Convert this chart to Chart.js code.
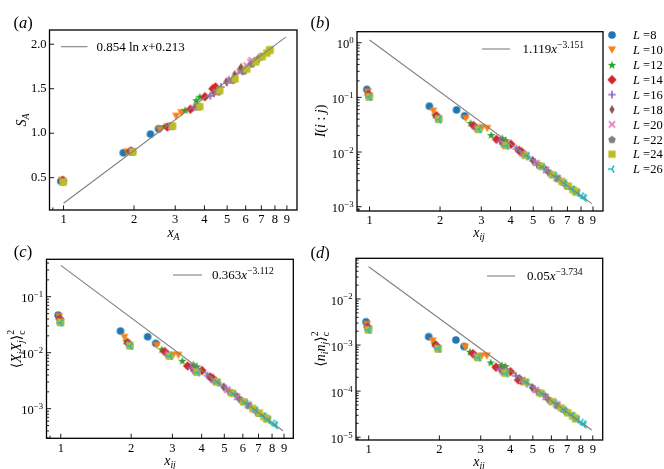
<!DOCTYPE html>
<html><head><meta charset="utf-8">
<script src="https://cdn.jsdelivr.net/npm/chart.js@4.4.1/dist/chart.umd.min.js"></script>
<style>
html,body{margin:0;padding:0;background:#fff;}
#wrap{position:relative;width:664px;height:469px;overflow:hidden;background:#fff;}
canvas{position:absolute;left:0;top:0;}
</style></head><body>
<div id="wrap">
<canvas id="ca" width="664" height="469"></canvas>
<canvas id="cb" width="664" height="469"></canvas>
<canvas id="cc" width="664" height="469"></canvas>
<canvas id="cd" width="664" height="469"></canvas>
</div>
<script>
// ---------------- DATA ----------------
const sizesL = [8, 10, 12, 14, 16, 18, 20, 22, 24, 26];
const legendLabels = ['8', '10', '12', '14', '16', '18', '20', '22', '24', '26'];

const x_L8  = [0.974, 1.800, 2.352, 2.546];
const x_L10 = [0.984, 1.871, 2.575, 3.027, 3.183];
const x_L12 = [0.989, 1.910, 2.701, 3.308, 3.690, 3.820];
const x_L14 = [0.991, 1.933, 2.778, 3.484, 4.015, 4.344, 4.456];
const x_L16 = [0.994, 1.949, 2.830, 3.601, 4.235, 4.705, 4.995, 5.093];
const x_L18 = [0.995, 1.960, 2.865, 3.683, 4.389, 4.962, 5.384, 5.643, 5.730];
const x_L20 = [0.996, 1.967, 2.890, 3.742, 4.502, 5.150, 5.672, 6.055, 6.288, 6.366];
const x_L22 = [0.997, 1.973, 2.909, 3.786, 4.586, 5.292, 5.892, 6.370, 6.719, 6.932, 7.003];
const x_L24 = [0.997, 1.977, 2.923, 3.820, 4.651, 5.402, 6.061, 6.616, 7.058, 7.379, 7.574, 7.639];
const x_L26 = [0.997, 1.980, 2.935, 3.846, 4.702, 5.488, 6.195, 6.811, 7.328, 7.738, 8.035, 8.216, 8.276];

// (a) S_A
const sA_L8  = [0.46, 0.78, 0.99, 1.05];
const sA_L10 = [0.47, 0.79, 1.04, 1.19, 1.23];
const sA_L12 = [0.47, 0.80, 1.08, 1.26, 1.37, 1.41];
const sA_L14 = [0.47, 0.80, 1.07, 1.27, 1.41, 1.50, 1.52];
const sA_L16 = [0.46, 0.80, 1.08, 1.29, 1.42, 1.52, 1.57, 1.60];
const sA_L18 = [0.46, 0.80, 1.08, 1.30, 1.45, 1.58, 1.66, 1.71, 1.74];
const sA_L20 = [0.46, 0.80, 1.08, 1.30, 1.46, 1.59, 1.69, 1.76, 1.80, 1.82];
const sA_L22 = [0.46, 0.79, 1.08, 1.30, 1.47, 1.60, 1.70, 1.78, 1.83, 1.86, 1.87];
const sA_L24 = [0.45, 0.79, 1.08, 1.30, 1.48, 1.61, 1.72, 1.80, 1.86, 1.90, 1.93, 1.94];

// (b) I(i:j)
const mi_L8  = [0.14, 0.069, 0.059, 0.046];
const mi_L10 = [0.125, 0.056, 0.041, 0.028, 0.027];
const mi_L12 = [0.118, 0.048, 0.034, 0.0205, 0.018, 0.0165];
const mi_L14 = [0.113, 0.046, 0.0305, 0.0171, 0.0139, 0.0107, 0.0101];
const mi_L16 = [0.108, 0.043, 0.028, 0.0158, 0.0115, 0.0083, 0.0069, 0.0066];
const mi_L18 = [0.106, 0.042, 0.0275, 0.0147, 0.0102, 0.0071, 0.0055, 0.0048, 0.0046];
const mi_L20 = [0.104, 0.041, 0.027, 0.014, 0.0094, 0.0063, 0.0047, 0.0038, 0.0034, 0.0033];
const mi_L22 = [0.103, 0.040, 0.0265, 0.0135, 0.0089, 0.0058, 0.0042, 0.0033, 0.0028, 0.0025, 0.0024];
const mi_L24 = [0.102, 0.040, 0.026, 0.0131, 0.0087, 0.0055, 0.0038, 0.0029, 0.0024, 0.00205, 0.0019, 0.00185];
const mi_L26 = [0.101, 0.039, 0.026, 0.0129, 0.0084, 0.0052, 0.0036, 0.0027, 0.0021, 0.00177, 0.00157, 0.00147, 0.00143];

// (c) <X_i X_j>_c^2
const xx_L8  = [0.047, 0.0244, 0.0193, 0.0147];
const xx_L10 = [0.044, 0.0188, 0.0135, 0.0091, 0.0090];
const xx_L12 = [0.041, 0.0163, 0.0115, 0.0072, 0.0062, 0.0057];
const xx_L14 = [0.040, 0.0151, 0.0105, 0.0058, 0.0048, 0.0037, 0.0035];
const xx_L16 = [0.038, 0.0145, 0.0095, 0.0054, 0.0039, 0.0029, 0.0024, 0.0023];
const xx_L18 = [0.037, 0.0141, 0.0093, 0.0050, 0.0035, 0.00246, 0.0019, 0.00167, 0.0016];
const xx_L20 = [0.036, 0.0138, 0.0091, 0.0048, 0.00324, 0.00218, 0.00163, 0.00132, 0.00119, 0.00115];
const xx_L22 = [0.035, 0.0135, 0.0089, 0.00462, 0.00307, 0.00201, 0.00146, 0.00115, 0.00098, 0.00088, 0.00084];
const xx_L24 = [0.035, 0.0133, 0.0087, 0.0045, 0.0030, 0.0019, 0.00132, 0.00101, 0.00084, 0.00072, 0.00067, 0.00065];
const xx_L26 = [0.034, 0.0131, 0.0087, 0.0044, 0.0029, 0.0018, 0.00125, 0.00094, 0.00074, 0.00062, 0.00055, 0.00052, 0.0005];

// (d) <n_i n_j>_c^2
const nn_L8  = [0.0032, 0.00152, 0.00129, 0.00093];
const nn_L10 = [0.0028, 0.00123, 0.00090, 0.00058, 0.00058];
const nn_L12 = [0.0026, 0.00108, 0.00072, 0.00042, 0.00037, 0.00035];
const nn_L14 = [0.00245, 0.0010, 0.00065, 0.00033, 0.000265, 0.000175, 0.00017];
const nn_L16 = [0.00235, 0.00093, 0.00060, 0.00030, 0.000215, 0.000145, 0.000118, 0.000112];
const nn_L18 = [0.00228, 0.00089, 0.00057, 0.00028, 0.000190, 0.000120, 0.000090, 0.000077, 0.000073];
const nn_L20 = [0.00222, 0.00086, 0.00056, 0.000265, 0.000175, 0.000106, 0.000075, 0.000059, 0.000052, 0.000050];
const nn_L22 = [0.00218, 0.00084, 0.00055, 0.000255, 0.000165, 0.000096, 0.000065, 0.000049, 0.000041, 0.000037, 0.000035];
const nn_L24 = [0.00214, 0.00083, 0.00054, 0.000245, 0.000158, 0.000090, 0.000059, 0.000043, 0.000034, 0.000029, 0.000026, 0.000025];
const nn_L26 = [0.00211, 0.00082, 0.00053, 0.00024, 0.000152, 0.000085, 0.000055, 0.000039, 0.000030, 0.000024, 0.000021, 0.0000193, 0.0000187];

// fit lines (end points)
const fitX = [1.0, 8.9];
const fitA = [0.213, 2.08];
const fitB = [1.119, 0.00114];
const fitC = [0.363, 0.000403];
const fitD = [0.05, 0.0000143];

// tick labels
const xTicks = [1, 2, 3, 4, 5, 6, 7, 8, 9];
const xTickLabels = ['1', '2', '3', '4', '5', '6', '7', '8', '9'];
const xMinorTicks = [0.9];
const yTicksA = [0.5, 1.0, 1.5, 2.0];
const yTickLabelsA = ['0.5', '1.0', '1.5', '2.0'];
const yExpB = [0, -1, -2, -3];
const yExpC = [-1, -2, -3];
const yExpD = [-2, -3, -4, -5];

// ---------------- STYLE ----------------
const W = 664, H = 469;
const AXW = 44, AXH = 18;
const FAM = '"Liberation Serif", "DejaVu Serif", serif';
const colors = ['#1f77b4', '#ff7f0e', '#2ca02c', '#d62728', '#9467bd', '#8c564b', '#e377c2', '#7f7f7f', '#bcbd22', '#17becf'];
const shapes = ['o', 'v', '*', 'D', '+', 'd', 'x', 'p', 's', '3'];

function mk(shape, color) {
  const c = document.createElement('canvas');
  c.width = 14; c.height = 14;
  const g = c.getContext('2d');
  g.translate(7, 7);
  g.fillStyle = color; g.strokeStyle = color;
  g.beginPath();
  if (shape === 'o') { g.arc(0, 0, 3.8, 0, Math.PI * 2); g.fill(); }
  else if (shape === 'v') { g.moveTo(-4.0, -3.4); g.lineTo(4.0, -3.4); g.lineTo(0, 3.8); g.closePath(); g.fill(); }
  else if (shape === '*') {
    for (let k = 0; k < 10; k++) {
      const r = k % 2 === 0 ? 4.5 : 1.85;
      const a = -Math.PI / 2 + k * Math.PI / 5;
      const px = r * Math.cos(a), py = r * Math.sin(a) + 0.4;
      if (k === 0) g.moveTo(px, py); else g.lineTo(px, py);
    }
    g.closePath(); g.fill();
  }
  else if (shape === 'D') { g.moveTo(0, -4.7); g.lineTo(4.7, 0); g.lineTo(0, 4.7); g.lineTo(-4.7, 0); g.closePath(); g.fill(); }
  else if (shape === 'd') { g.moveTo(0, -4.5); g.lineTo(2.7, 0); g.lineTo(0, 4.5); g.lineTo(-2.7, 0); g.closePath(); g.fill(); }
  else if (shape === 's') { g.rect(-3.6, -3.6, 7.2, 7.2); g.fill(); }
  else if (shape === 'p') {
    for (let k = 0; k < 5; k++) {
      const a = -Math.PI / 2 + k * 2 * Math.PI / 5;
      const px = 4.0 * Math.cos(a), py = 4.0 * Math.sin(a) + 0.4;
      if (k === 0) g.moveTo(px, py); else g.lineTo(px, py);
    }
    g.closePath(); g.fill();
  }
  else if (shape === '+') { g.lineWidth = 1.7; g.moveTo(-3.7, 0); g.lineTo(3.7, 0); g.moveTo(0, -3.7); g.lineTo(0, 3.7); g.stroke(); }
  else if (shape === 'x') { g.lineWidth = 1.7; g.moveTo(-3.1, -3.1); g.lineTo(3.1, 3.1); g.moveTo(-3.1, 3.1); g.lineTo(3.1, -3.1); g.stroke(); }
  else if (shape === '3') { g.lineWidth = 1.5; g.moveTo(0, 0); g.lineTo(-4.0, 0); g.moveTo(0, 0); g.lineTo(2.1, -3.5); g.moveTo(0, 0); g.lineTo(2.1, 3.5); g.stroke(); }
  return c;
}
const markers = shapes.map((s, i) => mk(s, colors[i]));

function fontStr(it, size) { return (it ? 'italic ' : '') + size + 'px ' + FAM; }
function drawRich(ctx, segs, x, y, align, size, scriptScale) {
  const ss = scriptScale || 0.7;
  const items = []; let w = 0;
  for (const s of segs) {
    if (s.stack) {
      const fs = size * 0.7; ctx.font = fontStr(s.it, fs);
      const ww = Math.max(ctx.measureText(s.stack[0]).width, ctx.measureText(s.stack[1]).width);
      items.push({ x: w, fs, s }); w += ww;
    } else {
      const fs = (s.sub || s.sup) ? size * ss : size; ctx.font = fontStr(s.it, fs);
      const ww = ctx.measureText(s.t).width;
      items.push({ x: w, fs, s }); w += ww + (s.sp || 0);
    }
  }
  const x0 = align === 'right' ? x - w : align === 'center' ? x - w / 2 : x;
  const base = y + size * 0.34;
  ctx.textAlign = 'left'; ctx.textBaseline = 'alphabetic'; ctx.fillStyle = '#000';
  for (const it of items) {
    const s = it.s; ctx.font = fontStr(s.it, it.fs);
    if (s.stack) {
      ctx.fillText(s.stack[1], x0 + it.x, base - size * 0.45);
      ctx.fillText(s.stack[0], x0 + it.x, base + size * 0.3);
    } else {
      const dy = s.sub ? size * 0.25 : s.sup ? -size * 0.42 : 0;
      ctx.fillText(s.t, x0 + it.x, base + dy);
    }
  }
}

function logMinors(lo, hi) {
  const out = [];
  for (let e = -7; e <= 2; e++) for (let m = 2; m <= 9; m++) { const v = m * Math.pow(10, e); if (v > lo && v < hi) out.push(v); }
  return out;
}

const panelPlugin = {
  id: 'panel',
  afterDraw(chart, args, o) {
    const ctx = chart.ctx, a = chart.chartArea, xs = chart.scales.x, ys = chart.scales.y;
    ctx.save();
    ctx.strokeStyle = '#000';
    ctx.lineWidth = 0.9;
    const tick = (px, py, dx, dy) => { ctx.beginPath(); ctx.moveTo(px, py); ctx.lineTo(px + dx, py + dy); ctx.stroke(); };
    xTicks.forEach(v => tick(xs.getPixelForValue(v), a.bottom, 0, -4.6));
    xMinorTicks.forEach(v => tick(xs.getPixelForValue(v), a.bottom, 0, -2.6));
    o.yMajor.forEach(v => tick(a.left, ys.getPixelForValue(v), 4.6, 0));
    o.yMinor.forEach(v => tick(a.left, ys.getPixelForValue(v), 2.6, 0));
    ctx.lineWidth = 1.3;
    ctx.strokeRect(a.left, a.top, a.right - a.left, a.bottom - a.top);
    // log tick labels
    if (o.yExp) {
      o.yExp.forEach(e => {
        const py = ys.getPixelForValue(Math.pow(10, e));
        drawRich(ctx, [{ t: '10' }, { t: e < 0 ? '\u2212' + (-e) : String(e), sup: 1 }], a.left - 3.5, py + 1.5, 'right', 12.5);
      });
    }
    // panel label
    drawRich(ctx, [{ t: '(' }, { t: o.letter, it: 1 }, { t: ')' }], o.lab[0], o.lab[1], 'center', 16.5);
    // x title
    drawRich(ctx, o.xTitle, o.xt[0], o.xt[1], 'center', 14);
    // y title rotated
    ctx.save(); ctx.translate(o.yt[0], o.yt[1]); ctx.rotate(-Math.PI / 2);
    drawRich(ctx, o.yTitle, 0, 0, 'center', 14);
    ctx.restore();
    // fit legend
    ctx.strokeStyle = '#808080'; ctx.lineWidth = 1.1;
    ctx.beginPath(); ctx.moveTo(o.fit[0], o.fit[2]); ctx.lineTo(o.fit[1], o.fit[2]); ctx.stroke();
    drawRich(ctx, o.fitText, o.fit[3], o.fit[2], 'left', 13, 0.74);
    // series legend
    if (o.legend) {
      sizesL.forEach((L, i) => {
        const y = 35 + i * 14.9;
        const m = markers[i];
        ctx.drawImage(m, 612 - m.width / 2, y - m.height / 2);
        drawRich(ctx, [{ t: 'L', it: 1 }, { t: ' =' + legendLabels[i] }], 633, y, 'left', 12.5);
      });
    }
    ctx.restore();
  }
};

const allX = [x_L8, x_L10, x_L12, x_L14, x_L16, x_L18, x_L20, x_L22, x_L24, x_L26];
function buildSets(ySeries, fitY) {
  const sets = ySeries.map((ys, i) => ({
    data: allX[i].map((x, k) => ({ x, y: ys[k] })),
    pointStyle: markers[i], pointRadius: 3, order: 20 - i
  }));
  sets.push({
    data: fitX.map((x, k) => ({ x, y: fitY[k] })),
    showLine: true, borderColor: '#808080', borderWidth: 1.1, pointRadius: 0, order: 0, fill: false
  });
  return sets;
}

const tickFont = { family: FAM, size: 12.5 };
function makeChart(id, area, xr, yScale, sets, panelOpts) {
  return new Chart(document.getElementById(id), {
    type: 'scatter',
    data: { datasets: sets },
    options: {
      responsive: false, animation: false, events: [],
      layout: { padding: { left: area[0] - AXW, top: area[1], right: W - area[2], bottom: H - area[3] - AXH } },
      plugins: { legend: { display: false }, tooltip: { enabled: false }, panel: panelOpts },
      scales: {
        x: {
          type: 'logarithmic', min: xr[0], max: xr[1], bounds: 'data',
          afterFit: s => { s.height = AXH; },
          afterBuildTicks: s => { s.ticks = xTicks.map(v => ({ value: v })); },
          grid: { display: false, drawTicks: false }, border: { display: false },
          ticks: { autoSkip: false, maxRotation: 0, minRotation: 0, padding: 2.5, color: '#000', font: tickFont,
                   callback: (v, i) => xTickLabels[i] }
        },
        y: yScale
      }
    },
    plugins: [panelPlugin]
  });
}

function logY(lo, hi) {
  return {
    type: 'logarithmic', min: lo, max: hi, bounds: 'data',
    afterFit: s => { s.width = AXW; },
    grid: { display: false, drawTicks: false }, border: { display: false },
    ticks: { display: false }
  };
}

const xSub = [{ t: 'x', it: 1 }, { t: 'ij', it: 1, sub: 1 }];

// (a)
makeChart('ca', [49.5, 30, 297, 210], [0.871, 9.94], {
  type: 'linear', min: 0.137, max: 2.16, bounds: 'data',
  afterFit: s => { s.width = AXW; },
  afterBuildTicks: s => { s.ticks = yTicksA.map(v => ({ value: v })); },
  grid: { display: false, drawTicks: false }, border: { display: false },
  ticks: { padding: 3, color: '#000', font: tickFont, callback: (v, i) => yTickLabelsA[i] }
}, buildSets([sA_L8, sA_L10, sA_L12, sA_L14, sA_L16, sA_L18, sA_L20, sA_L22, sA_L24], fitA), {
  letter: 'a', lab: [23, 22], xt: [173.5, 232], yt: [21, 120],
  xTitle: [{ t: 'x', it: 1 }, { t: 'A', it: 1, sub: 1 }],
  yTitle: [{ t: 'S', it: 1 }, { t: 'A', it: 1, sub: 1 }],
  yMajor: yTicksA, yMinor: [],
  fit: [61, 87.5, 46.7, 96.5],
  fitText: [{ t: '0.854 ' }, { t: 'ln ' }, { t: 'x', it: 1 }, { t: '+0.213' }]
});

// (b)
makeChart('cb', [357, 31.7, 603, 211], [0.884, 9.93], logY(8.34e-4, 1.59),
  buildSets([mi_L8, mi_L10, mi_L12, mi_L14, mi_L16, mi_L18, mi_L20, mi_L22, mi_L24, mi_L26], fitB), {
  letter: 'b', lab: [320, 22], xt: [479, 232], yt: [320, 121],
  xTitle: xSub,
  yTitle: [{ t: 'I', it: 1 }, { t: '(' }, { t: 'i', it: 1 }, { t: ' : ' }, { t: 'j', it: 1 }, { t: ')' }],
  yMajor: yExpB.map(e => Math.pow(10, e)), yMinor: logMinors(8.34e-4, 1.59), yExp: yExpB,
  fit: [482, 510, 49, 522.5],
  fitText: [{ t: '1.119' }, { t: 'x', it: 1 }, { t: '\u22123.151', sup: 1 }],
  legend: true
});

// (c)
makeChart('cc', [46.5, 259.3, 293.3, 438.3], [0.869, 9.86], logY(2.96e-4, 0.466),
  buildSets([xx_L8, xx_L10, xx_L12, xx_L14, xx_L16, xx_L18, xx_L20, xx_L22, xx_L24, xx_L26], fitC), {
  letter: 'c', lab: [23, 251], xt: [170, 460], yt: [16, 349],
  xTitle: xSub,
  yTitle: [{ t: '\u27E8' }, { t: 'X', it: 1 }, { t: 'i', it: 1, sub: 1 }, { t: 'X', it: 1 }, { t: 'j', it: 1, sub: 1 }, { t: '\u27E9' }, { stack: ['c', '2'], it: 0 }],
  yMajor: yExpC.map(e => Math.pow(10, e)), yMinor: logMinors(2.96e-4, 0.466), yExp: yExpC,
  fit: [173, 202, 275, 212],
  fitText: [{ t: '0.363' }, { t: 'x', it: 1 }, { t: '\u22123.112', sup: 1 }]
});

// (d)
makeChart('cd', [356, 258.3, 602.7, 440], [0.883, 9.92], logY(8.7e-6, 0.0764),
  buildSets([nn_L8, nn_L10, nn_L12, nn_L14, nn_L16, nn_L18, nn_L20, nn_L22, nn_L24, nn_L26], fitD), {
  letter: 'd', lab: [320, 252], xt: [479, 461], yt: [320, 349],
  xTitle: xSub,
  yTitle: [{ t: '\u27E8' }, { t: 'n', it: 1 }, { t: 'i', it: 1, sub: 1 }, { t: 'n', it: 1 }, { t: 'j', it: 1, sub: 1 }, { t: '\u27E9' }, { stack: ['c', '2'], it: 0 }],
  yMajor: yExpD.map(e => Math.pow(10, e)), yMinor: logMinors(8.7e-6, 0.0764), yExp: yExpD,
  fit: [487, 515, 276, 527],
  fitText: [{ t: '0.05' }, { t: 'x', it: 1 }, { t: '\u22123.734', sup: 1 }]
});
</script>
</body></html>
